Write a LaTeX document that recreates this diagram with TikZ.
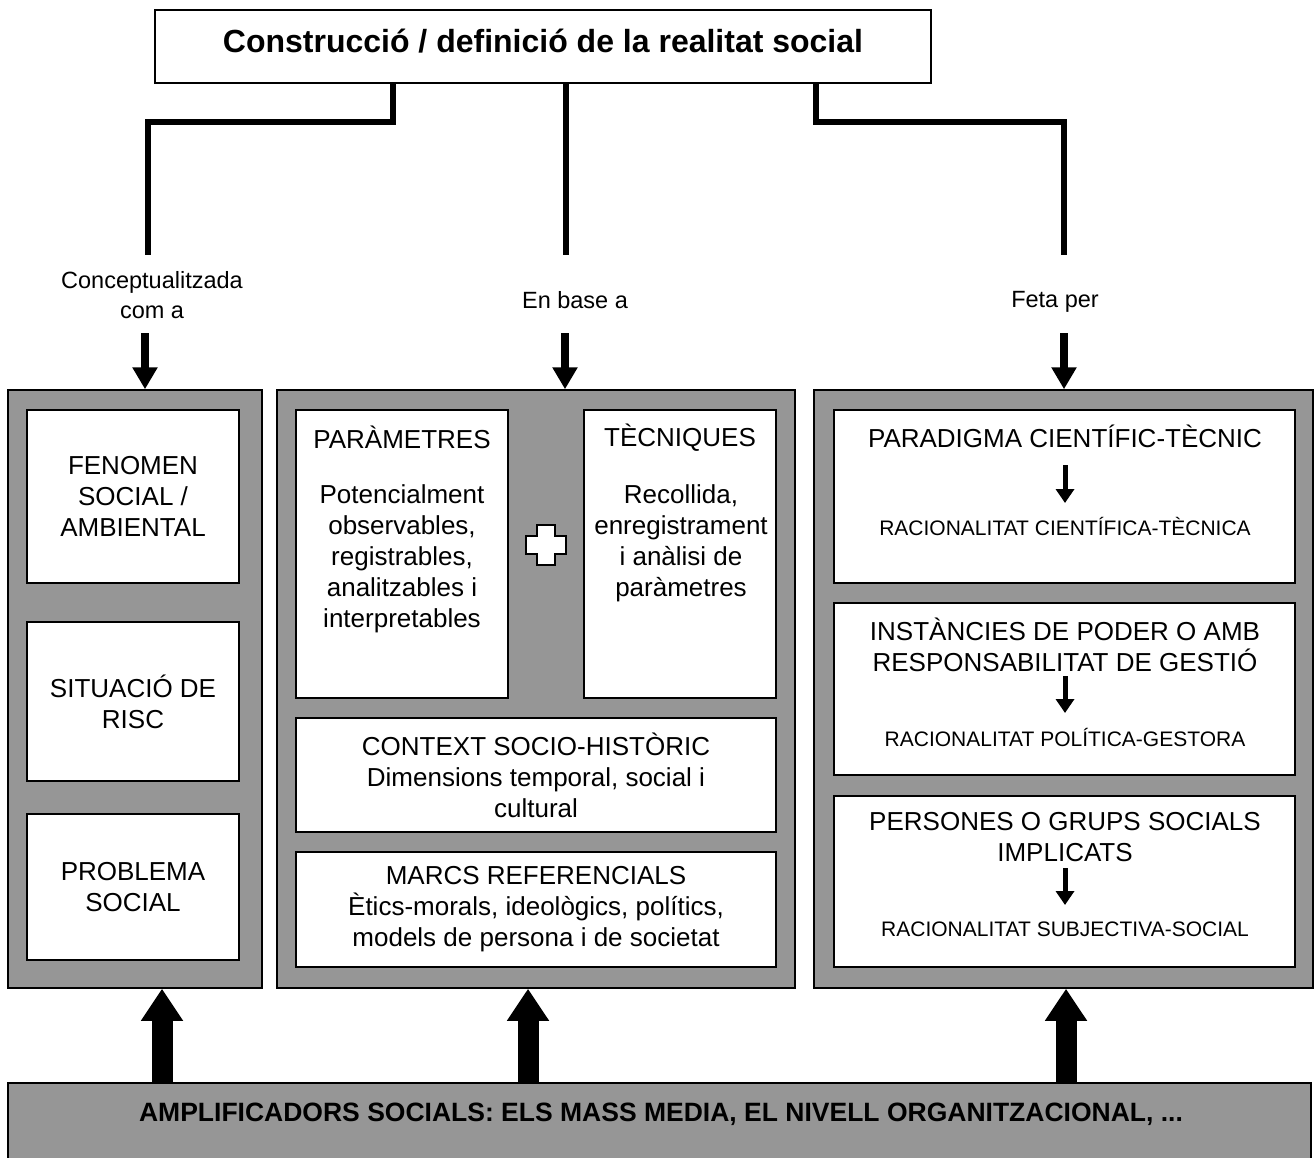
\documentclass[tikz,border=0pt]{standalone}
\usepackage{fontspec}
\setmainfont{Liberation Sans}
\usetikzlibrary{arrows.meta}
\definecolor{panelgray}{HTML}{969696}
\begin{document}
\begin{tikzpicture}[x=1pt,y=-1pt,
  panel/.style={draw=black, fill=panelgray, line width=1.5pt, inner sep=0pt},
  inbox/.style={draw=black, fill=white, line width=1.5pt, inner sep=0pt, align=center, font=\bodyf},
  txt/.style={inner sep=0pt, align=center, font=\bodyf},
  smalltxt/.style={inner sep=0pt, align=center, font=\fontsize{21}{25}\selectfont},
  lbl/.style={inner sep=0pt, align=center, font=\fontsize{23.5}{30}\selectfont},
  conn/.style={line width=6pt, line join=miter},
  downarrow/.style={line width=8pt, -{Triangle[width=24pt,length=22pt]}},
  uparrow/.style={line width=21pt, -{Triangle[width=40pt,length=32pt]}},
  smallarrow/.style={line width=5pt, -{Triangle[width=18pt,length=14pt]}}
]
\providecommand\bodyf{\fontsize{26}{31}\selectfont}
\useasboundingbox (0,0) rectangle (1316,1157);
\fill[white] (0,0) rectangle (1316,1157);

% title
\node[draw=black, fill=white, line width=1.5pt, minimum width=776pt, minimum height=73pt,
      text height=23.4pt, text depth=11.4pt,
      font=\fontsize{32}{38}\selectfont\bfseries] (title) at (543,46.5) {Construcció / definició de la realitat social};

% labels
\node[lbl] (lab1) at (152,295) {Conceptualitzada\\com a};
\node[lbl] (lab2) at (575,300) {En base a};
\node[lbl] (lab3) at (1055,302) {Feta per};

% panels
\node[panel, minimum width=254pt, minimum height=598pt] (p1) at (135,689) {};
\node[panel, minimum width=518pt, minimum height=598pt] (p2) at (536,689) {};
\node[panel, minimum width=499pt, minimum height=598pt] (p3) at (1063.5,689) {};

% left boxes
\node[inbox, minimum width=212pt, minimum height=173pt] (b1) at (133,496.5) {FENOMEN\\SOCIAL /\\AMBIENTAL};
\node[inbox, minimum width=212pt, minimum height=159pt] (b2) at (133,701.5) {SITUACIÓ DE\\RISC};
\node[inbox, minimum width=212pt, minimum height=146pt] (b3) at (133,887) {PROBLEMA\\SOCIAL};

% middle boxes
\node[inbox, minimum width=212pt, minimum height=288pt] (bpar) at (402,554) {};
\node[inbox, minimum width=192pt, minimum height=288pt] (btec) at (680,554) {};
\node[inbox, minimum width=480pt, minimum height=114pt] (bctx) at (536,775) {CONTEXT SOCIO-HISTÒRIC\\Dimensions temporal, social i\\cultural};
\node[inbox, minimum width=480pt, minimum height=115pt] (bmarc) at (536,909.5) {MARCS REFERENCIALS\\Ètics-morals, ideològics, polítics,\\models de persona i de societat};

\node[txt] (partit) at (402,437) {PARÀMETRES};
\node[txt] (parbody) at (402,559) {Potencialment\\observables,\\registrables,\\analitzables i\\interpretables};
\node[txt] (tectit) at (680,438) {TÈCNIQUES};
\node[txt] (tecbody) at (681,543.5) {Recollida,\\enregistrament\\i anàlisi de\\paràmetres};

% plus sign
\draw[fill=white, line width=1.5pt] (546,545)
  +(-9,-20) -- +(9,-20) -- +(9,-9) -- +(20,-9) -- +(20,9) -- +(9,9) -- +(9,20)
  -- +(-9,20) -- +(-9,9) -- +(-20,9) -- +(-20,-9) -- +(-9,-9) -- cycle;

% right boxes
\node[inbox, minimum width=461pt, minimum height=173pt] (r1) at (1064.5,496.5) {};
\node[inbox, minimum width=461pt, minimum height=172pt] (r2) at (1064.5,689) {};
\node[inbox, minimum width=461pt, minimum height=171pt] (r3) at (1064.5,881.5) {};

\node[txt] (r1a) at (1065,436) {PARADIGMA CIENTÍFIC-TÈCNIC};
\node[smalltxt] (r1b) at (1065,526) {RACIONALITAT CIENTÍFICA-TÈCNICA};
\node[txt] (r2a) at (1065,645) {INSTÀNCIES DE PODER O AMB\\RESPONSABILITAT DE GESTIÓ};
\node[smalltxt] (r2b) at (1065,737) {RACIONALITAT POLÍTICA-GESTORA};
\node[txt] (r3a) at (1065,837) {PERSONES O GRUPS SOCIALS\\IMPLICATS};
\node[smalltxt] (r3b) at (1065,929) {RACIONALITAT SUBJECTIVA-SOCIAL};

\coordinate (r1s) at (1065,465); \coordinate (r1e) at (1065,503);
\coordinate (r2s) at (1065,676); \coordinate (r2e) at (1065,713);
\coordinate (r3s) at (1065,868); \coordinate (r3e) at (1065,905);
\draw[smallarrow] (r1s) -- (r1e);
\draw[smallarrow] (r2s) -- (r2e);
\draw[smallarrow] (r3s) -- (r3e);

% bottom bar
\node[panel, minimum width=1303pt, minimum height=80pt] (bar) at (659.5,1123) {};
\node[inner sep=0pt, font=\fontsize{26.5}{30}\selectfont\bfseries] (bartext) at (661,1114)
  {AMPLIFICADORS SOCIALS: ELS MASS MEDIA, EL NIVELL ORGANITZACIONAL, ...};

% connectors from title
\coordinate (e1) at (148,255);
\coordinate (e2) at (566,255);
\coordinate (e3) at (1064,255);
\draw[conn] (title.south -| 393,0) -- (393,122) -| (e1);
\draw[conn] (title.south -| e2) -- (e2);
\draw[conn] (title.south -| 816,0) -- (816,122) -| (e3);

% down arrows into panels
\coordinate (d1) at (145,333);
\coordinate (d2) at (565,333);
\coordinate (d3) at (1064,333);
\draw[downarrow] (d1) -- (d1 |- p1.north);
\draw[downarrow] (d2) -- (d2 |- p2.north);
\draw[downarrow] (d3) -- (d3 |- p3.north);

% up arrows from bar
\draw[uparrow] (bar.north -| 162,0) -- (p1.south -| 162,0);
\draw[uparrow] (bar.north -| 528,0) -- (p2.south -| 528,0);
\draw[uparrow] (bar.north -| 1066,0) -- (p3.south -| 1066,0);
\end{tikzpicture}
\end{document}
